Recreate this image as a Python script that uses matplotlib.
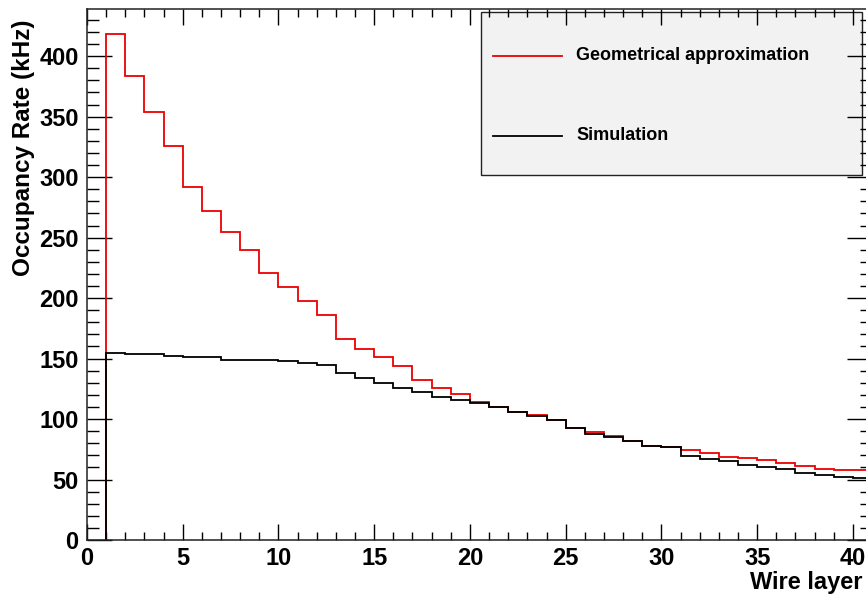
import numpy as np
import matplotlib
matplotlib.use("Agg")
import matplotlib.pyplot as plt
from matplotlib.patches import Rectangle
from matplotlib.lines import Line2D
from matplotlib.ticker import MultipleLocator

plt.rcParams['font.family'] = ['Liberation Sans', 'DejaVu Sans']
plt.rcParams['font.weight'] = 'bold'

# wire layer bins: 1..41
bin_edges = np.arange(1, 42)

geometrical = [418, 384, 354, 326, 292, 272, 255, 240, 221, 209,
               198, 186, 166, 158, 151, 144, 132, 126, 121, 114,
               110, 106, 103, 99, 93, 89, 86, 82, 78, 77,
               74, 72, 69, 68, 66, 64, 61, 59, 57.5, 57.5]
simulation = [154.5, 153.5, 153.5, 152, 151, 151, 149, 149, 149, 148,
              146, 145, 138, 134, 130, 126, 122, 118.5, 116, 113,
              110, 105.5, 102.5, 99, 93, 88, 85, 82, 78, 76.5,
              69.5, 67, 65, 62, 60, 58.5, 55, 53.5, 52, 51]

labels = ["Geometrical approximation", "Simulation"]
colors = ["#ee0000", "black"]

W, H = 866, 596
fig = plt.figure(figsize=(W / 100, H / 100), dpi=100)


def fx(x):
    return x / W


def fy(y):
    return 1 - y / H


# axes extends slightly past the right edge (cropped like the original)
ax = fig.add_axes([fx(87), fy(540), fx(872) - fx(87), fy(9) - fy(540)])

ax.stairs(geometrical, bin_edges, baseline=0, color=colors[0], lw=1.3, zorder=2)
ax.stairs(simulation, bin_edges, baseline=0, color=colors[1], lw=1.3, zorder=2.1)

ax.set_xlim(0, 41)
ax.set_ylim(0, 439)

ax.xaxis.set_major_locator(MultipleLocator(5))
ax.xaxis.set_minor_locator(MultipleLocator(1))
ax.yaxis.set_major_locator(MultipleLocator(50))
ax.yaxis.set_minor_locator(MultipleLocator(10))

ax.tick_params(axis='both', which='both', direction='in', top=True, right=True,
               width=1.0, colors='black', labelsize=17)
ax.tick_params(axis='x', which='major', length=11.5, pad=5)
ax.tick_params(axis='x', which='minor', length=5.5)
ax.tick_params(axis='y', which='major', length=18, pad=6)
ax.tick_params(axis='y', which='minor', length=8.5)
for lab in ax.get_xticklabels() + ax.get_yticklabels():
    lab.set_fontweight('bold')
for sp in ax.spines.values():
    sp.set_linewidth(1.1)
    sp.set_color('#222222')

# axis titles, ROOT style (right / top aligned)
fig.text(fx(863), fy(583), "Wire layer", ha='right', va='center',
         fontsize=17, fontweight='bold')
fig.text(fx(24), fy(20), "Occupancy Rate (kHz)", ha='center', va='top',
         rotation=90, fontsize=17.5, fontweight='bold')

# legend box
box = Rectangle((fx(481), fy(175)), fx(862) - fx(481), fy(12) - fy(175),
                transform=fig.transFigure, facecolor='#f2f2f2',
                edgecolor='#222222', lw=1.0, zorder=1, clip_on=False)
ax.add_patch(box)
entry_y = [55.5, 135.5]
for lab, col, yy in zip(labels, colors, entry_y):
    ax.add_line(Line2D([fx(493), fx(562)], [fy(yy), fy(yy)],
                       transform=fig.transFigure, color=col, lw=1.3,
                       zorder=3, clip_on=False))
    fig.text(fx(576), fy(yy), lab, ha='left', va='center',
             fontsize=13, fontweight='bold', zorder=4)

fig.savefig("out.png", dpi=100)
